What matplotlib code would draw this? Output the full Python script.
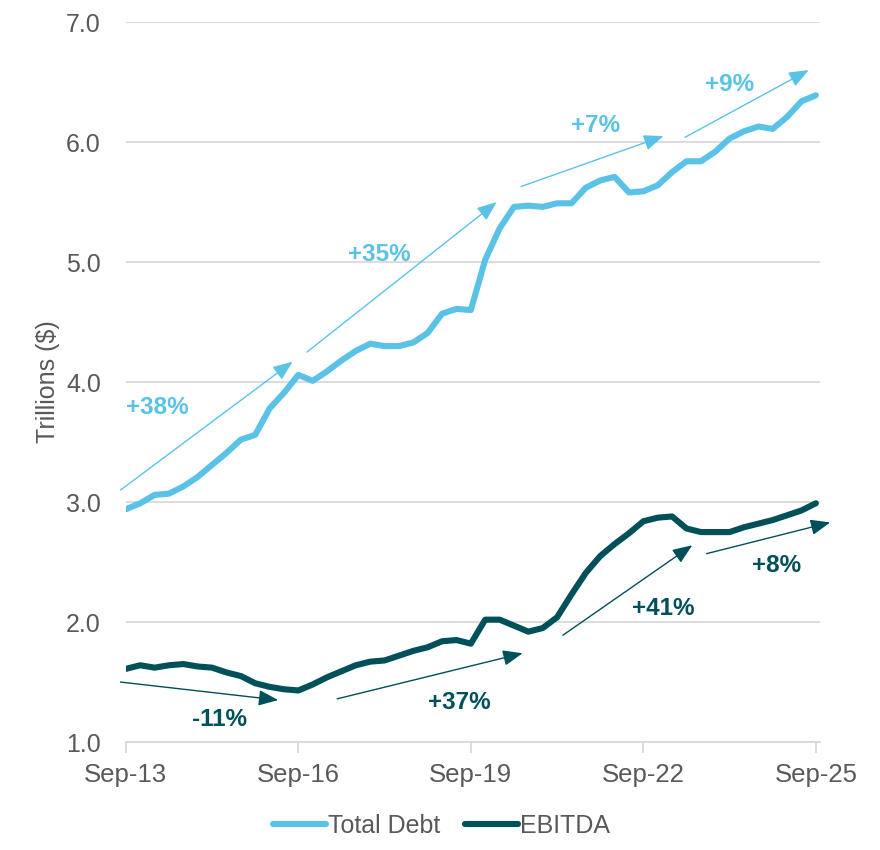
import matplotlib
matplotlib.use("Agg")
import matplotlib.pyplot as plt

plt.rcParams['font.family'] = ['Liberation Sans', 'DejaVu Sans']

# quarterly, Sep-13 .. Sep-25
total_debt = [2.94, 2.99, 3.06, 3.07, 3.13, 3.21, 3.31, 3.41, 3.52, 3.56,
              3.78, 3.91, 4.06, 4.01, 4.09, 4.18, 4.26, 4.32, 4.30, 4.30,
              4.33, 4.41, 4.57, 4.61, 4.60, 5.02, 5.28, 5.46, 5.47, 5.46,
              5.49, 5.49, 5.62, 5.68, 5.71, 5.58, 5.59, 5.64, 5.75, 5.84,
              5.84, 5.92, 6.03, 6.09, 6.13, 6.11, 6.21, 6.34, 6.39]
ebitda = [1.61, 1.64, 1.62, 1.64, 1.65, 1.63, 1.62, 1.58, 1.55, 1.49,
          1.46, 1.44, 1.43, 1.48, 1.54, 1.59, 1.64, 1.67, 1.68, 1.72,
          1.76, 1.79, 1.84, 1.85, 1.82, 2.02, 2.02, 1.97, 1.92, 1.95,
          2.04, 2.23, 2.41, 2.55, 2.65, 2.74, 2.84, 2.87, 2.88, 2.78,
          2.75, 2.75, 2.75, 2.79, 2.82, 2.85, 2.89, 2.93, 2.99]
tick_labels = ['Sep-13', 'Sep-16', 'Sep-19', 'Sep-22', 'Sep-25']

# growth arrows: (label, start, end, text position)
debt_arrows = [
    ('+38%', (-0.37, 3.10), (11.6, 4.17), (2.2, 3.79)),
    ('+35%', (12.6, 4.25), (25.8, 5.50), (17.6, 5.06)),
    ('+7%', (27.5, 5.63), (37.4, 6.05), (32.7, 6.14)),
    ('+9%', (38.9, 6.04), (47.5, 6.60), (42.0, 6.48)),
]
ebitda_arrows = [
    ('-11%', (-0.37, 1.50), (10.6, 1.35), (6.5, 1.19)),
    ('+37%', (14.7, 1.36), (27.6, 1.74), (23.2, 1.33)),
    ('+41%', (30.4, 1.89), (39.4, 2.64), (37.4, 2.11)),
    ('+8%', (40.4, 2.57), (49.0, 2.83), (45.3, 2.47)),
]

DEBT_C = '#5BC2E7'
EBITDA_C = '#00505A'
GREY = '#595959'

fig = plt.figure(figsize=(8.8, 8.5), dpi=100)
ax = fig.add_axes([0.143, 0.127, 0.789, 0.847])

x = list(range(len(total_debt)))
ax.plot(x, total_debt, color=DEBT_C, lw=4.4, label='Total Debt',
        solid_capstyle='round', solid_joinstyle='round')
ax.plot(x, ebitda, color=EBITDA_C, lw=4.4, label='EBITDA',
        solid_capstyle='round', solid_joinstyle='round')

def draw_arrows(arrows, color):
    for label, start, end, pos in arrows:
        ax.annotate('', xy=end, xytext=start, annotation_clip=False,
                    arrowprops=dict(arrowstyle='-|>,head_length=0.5,head_width=0.2',
                                    color=color, lw=1, mutation_scale=24,
                                    shrinkA=0, shrinkB=0))
        ax.text(pos[0], pos[1], label, color=color, fontsize=17.5,
                fontweight='bold', ha='center', va='center')

draw_arrows(debt_arrows, DEBT_C)
draw_arrows(ebitda_arrows, EBITDA_C)

ax.set_xlim(0, 48.3)
ax.set_ylim(1.0, 7.0)
ax.set_yticks([1, 2, 3, 4, 5, 6, 7])
ax.set_yticklabels(['%.1f' % v for v in range(1, 8)])
ax.set_xticks([0, 12, 24, 36, 48])
ax.set_xticklabels(tick_labels)
ax.grid(axis='y', color='#D9D9D9', lw=1.3)
ax.set_axisbelow(True)
for s in ['top', 'right', 'left']:
    ax.spines[s].set_visible(False)
ax.spines['bottom'].set_color('#D9D9D9')
ax.spines['bottom'].set_linewidth(1.3)
ax.tick_params(axis='x', colors='#D9D9D9', length=8, width=1.3, pad=7,
               labelcolor=GREY, labelsize=18.5)
ax.tick_params(axis='y', length=0, pad=18, labelcolor=GREY, labelsize=18)
ax.set_ylabel('Trillions ($)', fontsize=18, color=GREY, labelpad=4)

ax.legend(loc='upper center', bbox_to_anchor=(0.455, -0.082), ncol=2,
          frameon=False, fontsize=18, handlelength=2.1, columnspacing=1.0,
          handletextpad=0.1, labelcolor=GREY, borderaxespad=0.1)

fig.savefig('out.png', dpi=100)
